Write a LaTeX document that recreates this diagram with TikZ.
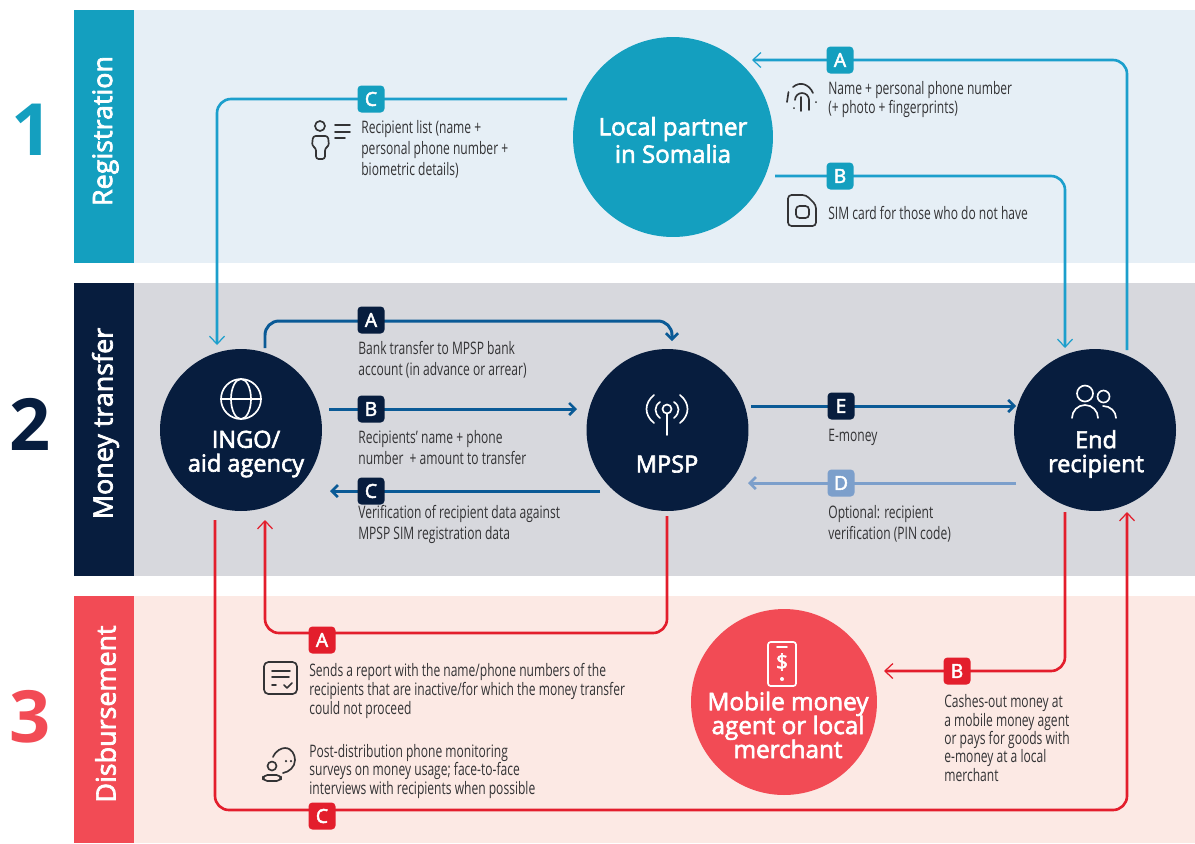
\documentclass[tikz,border=0pt]{standalone}
\usepackage{fontspec}
\usetikzlibrary{arrows.meta}
\setmainfont[FakeStretch=0.7]{Open Sans}
\newfontfamily\headfont[FakeBold=2.6]{Open Sans}
\newfontfamily\numfont{Open Sans}
\newcommand{\tightlines}{\lineskiplimit -20pt\relax}

\definecolor{tealc}{HTML}{149FBF}
\definecolor{navyc}{HTML}{071D3E}
\definecolor{redc}{HTML}{F24B55}
\definecolor{bandA}{HTML}{E6EFF6}
\definecolor{bandB}{HTML}{D7D8DD}
\definecolor{bandC}{HTML}{FCE9E4}
\definecolor{lineteal}{HTML}{1C9FCC}
\definecolor{lineblue}{HTML}{0A5A96}
\definecolor{linesoft}{HTML}{7C9FCB}
\definecolor{linered}{HTML}{E31E2C}
\definecolor{inkc}{HTML}{333335}

\tikzset{
  tabbox/.style={minimum width=1.2cm, inner sep=0pt, text=white, font=\headfont\fontsize{15.3}{16}\selectfont},
  hub/.style={circle, inner sep=0pt, text=white, align=center, font=\headfont\fontsize{13.4}{13.6}\selectfont\tightlines},
  badge/.style={rounded corners=2.2pt, minimum size=0.54cm, inner sep=0pt, text=white, font=\headfont\fontsize{11}{11}\selectfont},
  note/.style={anchor=west, align=left, inner sep=0pt, text=inkc},
  numeral/.style={font=\numfont\bfseries\fontsize{41}{41}\selectfont},
  flow/.style={rounded corners=0.28cm},
  thinflow/.style={flow, line width=1.5pt, >={Straight Barb[length=0.16cm,width=0.3cm,line width=0.7pt]}},
  thickflow/.style={flow, line width=1.7pt, >={Straight Barb[length=0.12cm,width=0.24cm,line width=1.5pt]}},
  icon/.style={draw=inkc, line width=0.95pt, line cap=round, line join=round},
  wicon/.style={draw=white, line width=0.95pt, line cap=round, line join=round},
}

\begin{document}
\begin{tikzpicture}[x=0.02cm, y=-0.02cm]
\useasboundingbox (0,0) rectangle (1195,843);

% bands
\fill[bandA] (134,10) rectangle (1195,263);
\fill[bandB] (134,283) rectangle (1195,576);
\fill[bandC] (134,596) rectangle (1195,843);
\fill[tealc] (74,10) rectangle (134,263);
\fill[navyc] (74,283) rectangle (134,576);
\fill[redc] (74,596) rectangle (134,843);

\node[tabbox, rotate=90] (tabreg) at (105.5,131) {Registration};
\node[tabbox, rotate=90] (tabmoney) at (105.5,423.5) {Money transfer};
\node[tabbox, rotate=90] (tabdisb) at (105.5,714) {Disbursement};

\node[numeral, text=tealc] (numA) at (32,130) {1};
\node[numeral, text=navyc] (numB) at (30,424) {2};
\node[numeral, text=redc] (numC) at (30,717) {3};

% actors
\node[hub, fill=tealc, minimum size=4cm] (partner) at (673,137) {};
\node[hub, fill=navyc, minimum size=3.24cm] (ingo) at (241,430) {};
\node[hub, fill=navyc, minimum size=3.24cm] (mpsp) at (667.5,430) {};
\node[hub, fill=navyc, minimum size=3.24cm] (endrec) at (1095,430) {};
\node[hub, fill=redc, minimum size=3.72cm] (agent) at (784,702) {};

\node[hub, font=\headfont\fontsize{13.7}{15.6}\selectfont\tightlines] (partnerlabel) at (673,140) {Local partner\\in Somalia};
\node[hub] (ingolabel) at (246,454) {INGO/\\aid agency};
\node[hub] (mpsplabel) at (667,464) {MPSP};
\node[hub] (endlabel) at (1096,454) {End\\recipient};
\node[hub, font=\headfont\fontsize{13.8}{13.6}\selectfont\tightlines] (agentlabel) at (788,725) {Mobile money\\agent or local\\merchant};

% free ends of the connectors
\coordinate (regCa) at (567,99);
\coordinate (regCb) at (217,345);
\coordinate (regAa) at (1127,350);
\coordinate (regAb) at (752,60);
\coordinate (regBa) at (775,176);
\coordinate (regBb) at (1065,348);
\coordinate (monAa) at (265,348);
\coordinate (monAb) at (470,321);
\coordinate (monAc) at (672,341);
\coordinate (monBa) at (329,409);
\coordinate (monBb) at (577,409);
\coordinate (monCa) at (600,491);
\coordinate (monCb) at (330,491);
\coordinate (monEa) at (751,406);
\coordinate (monEb) at (1016,406);
\coordinate (monDa) at (1016,483);
\coordinate (monDb) at (748,483);
\coordinate (disAa) at (667,516);
\coordinate (disAb) at (470,633);
\coordinate (disAc) at (265,520);
\coordinate (disBa) at (1065,512);
\coordinate (disBb) at (884,671);
\coordinate (disCa) at (215,520);
\coordinate (disCb) at (670,810);
\coordinate (disCc) at (1127,512);

\draw[thinflow, lineteal, ->] (regCa) -| (regCb);
\draw[thinflow, lineteal, ->] (regAa) |- (regAb);
\draw[thinflow, lineteal, ->] (regBa) -| (regBb);
\draw[thickflow, lineblue, ->] (monAa) |- (monAb) -| (monAc);
\draw[thickflow, lineblue, ->] (monBa) -- (monBb);
\draw[thickflow, lineblue, ->] (monCa) -- (monCb);
\draw[thickflow, lineblue, ->] (monEa) -- (monEb);
\draw[thickflow, linesoft, ->] (monDa) -- (monDb);
\draw[thinflow, linered, ->] (disAa) |- (disAb) -| (disAc);
\draw[thinflow, linered, ->] (disBa) |- (disBb);
\draw[thinflow, linered, ->] (disCa) |- (disCb) -| (disCc);

% letters
\node[badge, fill=tealc] (bregC) at (371,99) {C};
\node[badge, fill=tealc] (bregA) at (840,60) {A};
\node[badge, fill=tealc] (bregB) at (840,176) {B};
\node[badge, fill=navyc] (bmonA) at (371,320) {A};
\node[badge, fill=navyc] (bmonB) at (371,409) {B};
\node[badge, fill=navyc] (bmonC) at (371,491) {C};
\node[badge, fill=navyc] (bmonE) at (841,406) {E};
\node[badge, fill=linesoft] (bmonD) at (841,483) {D};
\node[badge, fill=linered] (bdisA) at (322,640) {A};
\node[badge, fill=linered] (bdisB) at (957,671) {B};
\node[badge, fill=linered] (bdisC) at (322,816) {C};

% notes
\node[note, font=\fontsize{9.8}{11.9}\selectfont] (nregC) at (361,149) {Recipient list (name +\\personal phone number +\\biometric details)};
\node[note, font=\fontsize{9.8}{11}\selectfont] (nregA) at (828,99.5) {Name + personal phone number\\(+ photo + fingerprints)};
\node[note, font=\fontsize{9.8}{11}\selectfont] (nregB) at (828,212.5) {SIM card for those who do not have};
\node[note, font=\fontsize{9.8}{11.9}\selectfont] (nmonA) at (358,359.5) {Bank transfer to MPSP bank\\account (in advance or arrear)};
\node[note, font=\fontsize{9.8}{11.9}\selectfont] (nmonB) at (358,447.5) {Recipients’ name + phone\\number\ \ + amount to transfer};
\node[note, font=\fontsize{9.8}{11.9}\selectfont] (nmonC) at (358,524.5) {Verification of recipient data against\\MPSP SIM registration data};
\node[note, font=\fontsize{9.8}{11}\selectfont] (nmonE) at (828,437.5) {E-money};
\node[note, font=\fontsize{9.8}{11.9}\selectfont] (nmonD) at (828,524) {Optional: recipient\\verification (PIN code)};
\node[note, font=\fontsize{9.8}{10.8}\selectfont] (ndisA) at (309,690.5) {Sends a report with the name/phone numbers of the\\recipients that are inactive/for which the money transfer\\could not proceed};
\node[note, font=\fontsize{9.8}{10.8}\selectfont] (ndisC) at (309,771.5) {Post-distribution phone monitoring\\surveys on money usage; face-to-face\\interviews with recipients when possible};
\node[note, font=\fontsize{9.8}{10.5}\selectfont] (ndisB) at (944,738) {Cashes-out money at\\a mobile money agent\\or pays for goods with\\e-money at a local\\merchant};

% white icons
\draw[wicon] (241,399) circle [radius=0.4cm];
\draw[wicon] (241,399) ellipse [x radius=0.2cm, y radius=0.4cm];
\draw[wicon] (221,399) -- (261,399);

\draw[wicon] (667,409) circle [radius=0.09cm];
\draw[wicon] (667,413.5) -- (667,435);
\draw[wicon] (660,402) .. controls (654,406) and (654,413) .. (660,418);
\draw[wicon] (674,402) .. controls (680,406) and (680,413) .. (674,418);
\draw[wicon] (654,395) .. controls (644,403) and (644,415) .. (654,423);
\draw[wicon] (680,395) .. controls (690,403) and (690,415) .. (680,423);

\draw[wicon] (1085,393.5) circle [radius=0.16cm];
\draw[wicon] (1103.5,396.5) circle [radius=0.12cm];
\draw[wicon] (1072,418) arc [start angle=180, end angle=0, radius=0.26cm];
\draw[wicon] (1103,406) arc [start angle=90, end angle=0, x radius=0.26cm, y radius=0.24cm];

\draw[wicon, rounded corners=1.5pt] (768,642) rectangle (796,686);
\draw[wicon] (777,647) -- (787,647);
\node[font=\headfont\fontsize{12}{12}\selectfont, text=white, inner sep=0pt] (dollar) at (782,662) {\$};
\fill[white] (782,679) circle [radius=0.04cm];

% dark icons
\draw[icon] (320,126) circle [radius=0.1cm];
\draw[icon, rounded corners=1.5pt] (313,136) -- (328,136) -- (329,146) -- (325,148) -- (325,159) -- (316,159) -- (316,148) -- (312,146) -- cycle;
\draw[icon] (335,125) -- (350,125);
\draw[icon] (335,132) -- (350,132);
\draw[icon] (335,138) -- (345,138);

\draw[icon] (801,97) -- (801,111);
\draw[icon] (794,108) -- (794,108.2);
\draw[icon] (795,100) arc [start angle=180, end angle=0, radius=0.14cm] -- (809,110);
\draw[icon] (787,102) -- (788.5,92);
\draw[icon] (793,87) .. controls (800,81) and (809,84) .. (813,93);
\draw[icon] (816,102) -- (816,102.2);

\draw[icon, rounded corners=2pt] (788,195) -- (806,195) -- (816,205) -- (816,226) -- (788,226) -- cycle;
\draw[icon, rounded corners=2pt] (796,206) rectangle (809,218);

\draw[icon, rounded corners=2.5pt] (264,662) rectangle (297,694);
\draw[icon] (272,671) -- (290,671);
\draw[icon] (272,677) -- (289,677);
\draw[icon] (272,685) -- (276,685);
\draw[icon] (284,685) -- (287,688) -- (292,683);

\draw[icon] (272,766) circle [radius=0.09cm];
\draw[icon, rounded corners=2.5pt] (263,781) -- (263,775) -- (281,775) -- (281,781) -- cycle;
\draw[icon] (273,757) .. controls (276,750) and (282,748) .. (285,748) .. controls (292,748) and (295,755) .. (295,760) .. controls (295,767) and (289,772) .. (283,773);
\fill[inkc] (286,761) circle [radius=0.025cm];
\fill[inkc] (291,761) circle [radius=0.025cm];

\end{tikzpicture}
\end{document}
